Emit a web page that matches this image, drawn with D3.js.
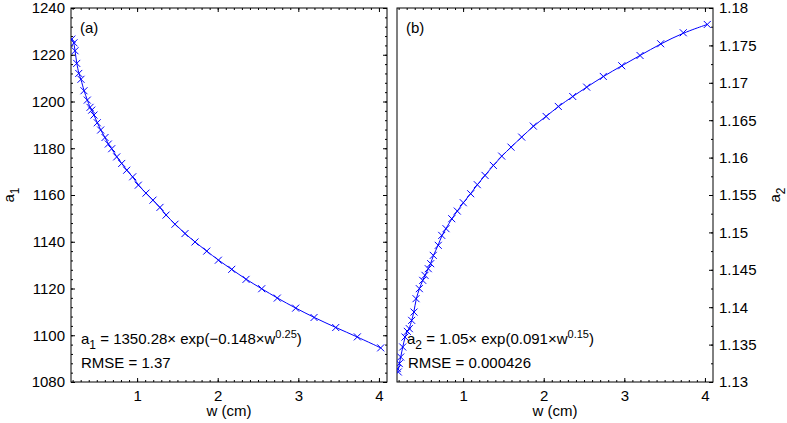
<!DOCTYPE html>
<html>
<head>
<meta charset="utf-8">
<script src="https://cdn.jsdelivr.net/npm/d3@7"></script>
<style>
  html, body { margin: 0; padding: 0; background: #fff; }
  svg { display: block; font-family: "Liberation Sans", Arial, Helvetica, sans-serif; }
</style>
</head>
<body>
<div id="chart"></div>
<script>
// ---- data ----
const wA = [0.19, 0.217, 0.23, 0.251, 0.276, 0.304, 0.341, 0.382, 0.416, 0.437, 0.465, 0.506, 0.548, 0.602, 0.643, 0.685, 0.747, 0.809, 0.871, 0.946, 1.015, 1.11, 1.197, 1.284, 1.359, 1.47, 1.594, 1.718, 1.864, 2.008, 2.174, 2.351, 2.546, 2.739, 2.967, 3.195, 3.464, 3.732, 4.022];
const a1 = [1226.7, 1225.1, 1221.7, 1216.3, 1212.0, 1209.5, 1204.6, 1200.6, 1197.5, 1196.3, 1194.2, 1190.9, 1187.8, 1184.6, 1181.8, 1179.8, 1176.3, 1173.5, 1170.6, 1167.8, 1164.2, 1160.8, 1157.8, 1154.7, 1151.4, 1147.5, 1143.5, 1139.9, 1136.0, 1132.1, 1128.2, 1123.9, 1119.9, 1115.9, 1111.6, 1107.6, 1103.3, 1099.3, 1094.6];

const wB = [0.184, 0.196, 0.209, 0.226, 0.251, 0.279, 0.308, 0.333, 0.362, 0.391, 0.416, 0.457, 0.499, 0.527, 0.568, 0.598, 0.630, 0.692, 0.735, 0.788, 0.859, 0.928, 1.002, 1.094, 1.176, 1.272, 1.375, 1.479, 1.594, 1.727, 1.871, 2.03, 2.181, 2.36, 2.533, 2.739, 2.968, 3.195, 3.451, 3.731, 4.029];
const a2 = [1.13179, 1.13134, 1.13246, 1.13334, 1.13468, 1.13601, 1.13677, 1.13713, 1.13824, 1.13935, 1.14114, 1.14248, 1.14359, 1.14426, 1.14515, 1.14582, 1.14693, 1.14827, 1.14960, 1.15050, 1.15183, 1.15285, 1.15397, 1.15517, 1.15638, 1.15762, 1.15896, 1.16020, 1.16140, 1.16274, 1.16421, 1.16550, 1.16684, 1.16817, 1.16942, 1.17085, 1.17228, 1.17365, 1.17522, 1.17669, 1.17780];

const xTicks = [1, 2, 3, 4];
const yTicksA = [1080, 1100, 1120, 1140, 1160, 1180, 1200, 1220, 1240];
const yTicksB = [1.13, 1.135, 1.14, 1.145, 1.15, 1.155, 1.16, 1.165, 1.17, 1.175, 1.18];
const yLabelsB = ["1.13", "1.135", "1.14", "1.145", "1.15", "1.155", "1.16", "1.165", "1.17", "1.175", "1.18"];
const xDomain = [0.18, 4.1];
const yDomainA = [1080, 1240];
const yDomainB = [1.13, 1.18];

// ---- layout ----
const W = 787, H = 423;
const yTop = 8, yBot = 382;
const panelA = { left: 71, right: 387 };
const panelB = { left: 397, right: 713 };
const FONT = 15;
const BLUE = "#0000ff";

const svg = d3.select("#chart").append("svg").attr("width", W).attr("height", H);

const xA = d3.scaleLinear().domain(xDomain).range([panelA.left, panelA.right]);
const xB = d3.scaleLinear().domain(xDomain).range([panelB.left, panelB.right]);
const yA = d3.scaleLinear().domain(yDomainA).range([yBot, yTop]);
const yB = d3.scaleLinear().domain(yDomainB).range([yBot, yTop]);

const minorX = d3.range(2, 41).map(d => d / 10);
const minorYA = d3.range(1080, 1241, 4);
const minorYB = d3.range(0, 21).map(i => 1.13 + i * 0.0025);

function styleAxis(g) {
  g.select(".domain").remove();
  g.selectAll("line").attr("stroke", "#000").attr("stroke-width", 1);
  g.selectAll("text").attr("font-size", FONT).attr("fill", "#000").attr("font-family", null);
}

function drawXAxes(x, p) {
  svg.append("g").attr("transform", `translate(0,${yBot})`)
    .call(d3.axisBottom(x).tickValues(xTicks).tickFormat(d3.format("d"))
      .tickSizeInner(-4).tickSizeOuter(0).tickPadding(8))
    .call(styleAxis);
  svg.append("g").attr("transform", `translate(0,${yBot})`)
    .call(d3.axisBottom(x).tickValues(minorX).tickFormat("").tickSizeInner(-2).tickSizeOuter(0))
    .call(styleAxis);
  svg.append("g").attr("transform", `translate(0,${yTop})`)
    .call(d3.axisTop(x).tickValues(xTicks).tickFormat("").tickSizeInner(-4).tickSizeOuter(0))
    .call(styleAxis);
  svg.append("g").attr("transform", `translate(0,${yTop})`)
    .call(d3.axisTop(x).tickValues(minorX).tickFormat("").tickSizeInner(-2).tickSizeOuter(0))
    .call(styleAxis);
  svg.append("text").attr("x", (p.left + p.right) / 2).attr("y", 416)
    .attr("text-anchor", "middle").attr("font-size", FONT).text("w (cm)");
}

drawXAxes(xA, panelA);
drawXAxes(xB, panelB);

svg.append("g").attr("transform", `translate(${panelA.left},0)`)
  .call(d3.axisLeft(yA).tickValues(yTicksA).tickFormat(d3.format("d"))
    .tickSizeInner(-4).tickSizeOuter(0).tickPadding(6))
  .call(styleAxis);
svg.append("g").attr("transform", `translate(${panelA.left},0)`)
  .call(d3.axisLeft(yA).tickValues(minorYA).tickFormat("").tickSizeInner(-2).tickSizeOuter(0))
  .call(styleAxis);
svg.append("g").attr("transform", `translate(${panelA.right},0)`)
  .call(d3.axisRight(yA).tickValues(yTicksA).tickFormat("").tickSizeInner(-4).tickSizeOuter(0))
  .call(styleAxis);
svg.append("g").attr("transform", `translate(${panelA.right},0)`)
  .call(d3.axisRight(yA).tickValues(minorYA).tickFormat("").tickSizeInner(-2).tickSizeOuter(0))
  .call(styleAxis);

svg.append("g").attr("transform", `translate(${panelB.right},0)`)
  .call(d3.axisRight(yB).tickValues(yTicksB).tickFormat((d, i) => yLabelsB[i])
    .tickSizeInner(-4).tickSizeOuter(0).tickPadding(6))
  .call(styleAxis);
svg.append("g").attr("transform", `translate(${panelB.right},0)`)
  .call(d3.axisRight(yB).tickValues(minorYB).tickFormat("").tickSizeInner(-2).tickSizeOuter(0))
  .call(styleAxis);

[panelA, panelB].forEach(p => {
  svg.append("rect").attr("x", p.left).attr("y", yTop)
    .attr("width", p.right - p.left).attr("height", yBot - yTop)
    .attr("fill", "none").attr("stroke", "#000").attr("stroke-width", 1);
});

function yLabel(x, sub) {
  const t = svg.append("text").attr("transform", `translate(${x},${(yTop + yBot) / 2}) rotate(-90)`)
    .attr("text-anchor", "middle").attr("font-size", FONT);
  t.append("tspan").text("a");
  t.append("tspan").attr("dy", 5).attr("font-size", 12).text(sub);
}
yLabel(14, "1");
yLabel(780, "2");

function drawSeries(ws, vs, x, y, clipId, p) {
  svg.append("clipPath").attr("id", clipId).append("rect")
    .attr("x", p.left).attr("y", yTop).attr("width", p.right - p.left).attr("height", yBot - yTop);
  const pts = ws.map((w, i) => [w, vs[i]]);
  const g = svg.append("g").attr("clip-path", `url(#${clipId})`);
  g.append("path").datum(pts)
    .attr("d", d3.line().x(d => x(d[0])).y(d => y(d[1])).curve(d3.curveBasis))
    .attr("fill", "none").attr("stroke", BLUE).attr("stroke-width", 1);
  const s = 3.5;
  g.selectAll("path.mk").data(pts).join("path").attr("class", "mk")
    .attr("d", d => {
      const cx = x(d[0]), cy = y(d[1]);
      return `M${cx - s},${cy - s}L${cx + s},${cy + s}M${cx - s},${cy + s}L${cx + s},${cy - s}`;
    })
    .attr("stroke", BLUE).attr("stroke-width", 1).attr("fill", "none");
}
drawSeries(wA, a1, xA, yA, "clipA", panelA);
drawSeries(wB, a2, xB, yB, "clipB", panelB);

svg.append("text").attr("x", 80).attr("y", 33).attr("font-size", FONT).text("(a)");
svg.append("text").attr("x", 406).attr("y", 33).attr("font-size", FONT).text("(b)");

function formula(x, y, sub, parts) {
  const t = svg.append("text").attr("x", x).attr("y", y).attr("font-size", FONT);
  t.append("tspan").text("a");
  t.append("tspan").attr("dy", 5).attr("font-size", 12).text(sub);
  t.append("tspan").attr("dy", -5).text(parts[0]);
  t.append("tspan").attr("dy", -6).attr("font-size", 11).text(parts[1]);
  t.append("tspan").attr("dy", 6).text(")");
}
formula(81, 344, "1", [" = 1350.28\u00d7 exp(\u22120.148\u00d7w", "0.25"]);
svg.append("text").attr("x", 81).attr("y", 368).attr("font-size", FONT).text("RMSE = 1.37");
formula(407, 344, "2", [" = 1.05\u00d7 exp(0.091\u00d7w", "0.15"]);
svg.append("text").attr("x", 408).attr("y", 368).attr("font-size", FONT).text("RMSE = 0.000426");
</script>
</body>
</html>
